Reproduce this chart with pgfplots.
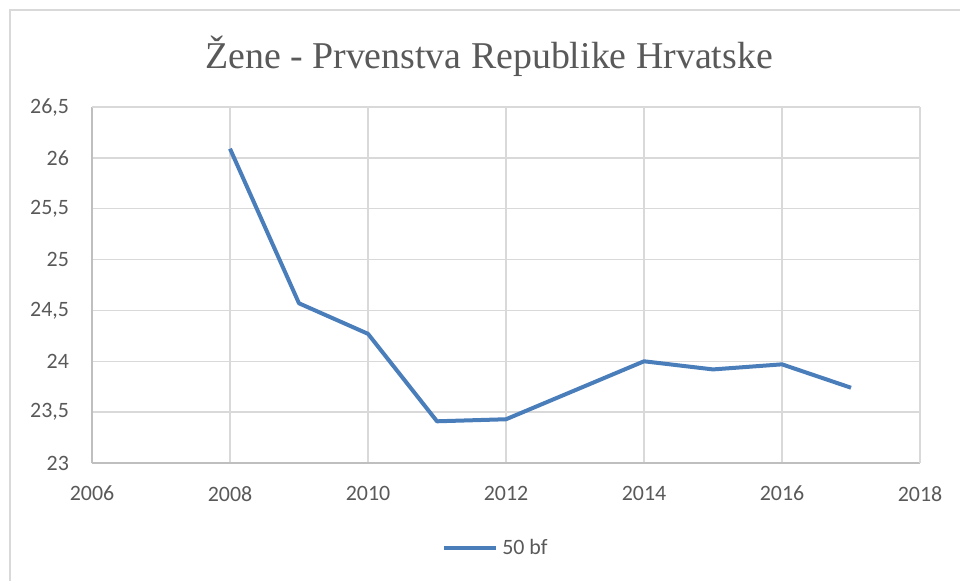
\documentclass[border=0pt]{standalone}
\usepackage{pgfplots}
\pgfplotsset{compat=1.18}
\usepackage{fontspec}
\setmainfont{Liberation Serif}
\newfontfamily\calibri{Carlito}
\definecolor{linblue}{RGB}{74,126,187}
\definecolor{gridgray}{RGB}{217,217,217}
\definecolor{axgray}{RGB}{191,191,191}
\definecolor{txtgray}{RGB}{89,89,89}
\begin{document}
\begin{tikzpicture}
\useasboundingbox (0bp,0bp) rectangle (480bp,290.5bp);
\draw[gridgray, line width=0.75bp] (5bp,0bp) -- (5bp,285.5bp) -- (480bp,285.5bp);
\node[font=\fontsize{19}{21}\selectfont, text=txtgray] at (244.5bp,262.5bp) {Žene - Prvenstva Republike Hrvatske};
\begin{axis}[
  at={(46bp,59bp)}, anchor=south west,
  scale only axis, width=414bp, height=178bp,
  xmin=2006, xmax=2018, ymin=23, ymax=26.5,
  xtick={2006,2008,...,2018},
  ytick={23,23.5,...,26.5},
  grid=major,
  major grid style={gridgray, line width=0.75bp},
  axis line style={axgray, line width=0.75bp},
  axis x line*=bottom, axis y line*=left,
  tick style={draw=none},
  ticklabel style={font=\calibri\fontsize{11}{13}\selectfont, text=txtgray},
  /pgf/number format/assume math mode=true,
  /pgf/number format/use comma,
  /pgf/number format/1000 sep={},
  xticklabel style={yshift=-8bp},
  yticklabel style={xshift=-8bp},
  legend style={at={(0.489,-0.239)}, anchor=center, draw=none, fill=none,
    font=\calibri\fontsize{11}{13}\selectfont, text=txtgray, inner sep=0pt},
  legend image code/.code={\draw[#1] (0bp,0bp) -- (26bp,0bp);},
  legend cell align=left,
]
\draw[gridgray, line width=0.75bp] (rel axis cs:0,1) -- (rel axis cs:1,1) -- (rel axis cs:1,0);
\addplot[linblue, line width=2bp, line join=round] coordinates {
(2008,26.09) (2009,24.57) (2010,24.27) (2011,23.41) (2012,23.43)
(2014,24.00) (2015,23.92) (2016,23.97) (2017,23.74)
};
\addlegendentry{50 bf}
\end{axis}
\end{tikzpicture}
\end{document}
